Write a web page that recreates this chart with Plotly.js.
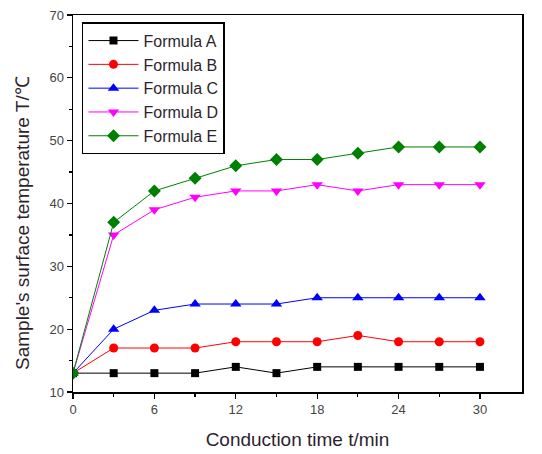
<!DOCTYPE html>
<html>
<head>
<meta charset="utf-8">
<script src="https://cdn.plot.ly/plotly-3.0.1.min.js"></script>
<style>html,body{margin:0;padding:0;background:#fff;}#chart{width:542px;height:454px;}</style>
</head>
<body>
<div id="chart"></div>
<script>
const time = [0, 3, 6, 9, 12, 15, 18, 21, 24, 27, 30];
const formulaA = [13, 13, 13, 13, 14, 13, 14, 14, 14, 14, 14];
const formulaB = [13, 17, 17, 17, 18, 18, 18, 19, 18, 18, 18];
const formulaC = [13, 20, 23, 24, 24, 24, 25, 25, 25, 25, 25];
const formulaD = [13, 35, 39, 41, 42, 42, 43, 42, 43, 43, 43];
const formulaE = [13, 37, 42, 44, 46, 47, 47, 48, 49, 49, 49];
const seriesNames = ["Formula A", "Formula B", "Formula C", "Formula D", "Formula E"];
const seriesValues = [formulaA, formulaB, formulaC, formulaD, formulaE];
const colors = ["#000000", "#ff0000", "#0000ff", "#ff00ff", "#008000"];
const symbols = ["square", "circle", "triangle-up", "triangle-down", "diamond"];
const sizes = [8, 9, 10, 10, 10];

const traces = seriesNames.map((n, i) => ({
  x: time, y: seriesValues[i], name: n, type: "scatter", mode: "lines+markers",
  line: {color: colors[i], width: 1},
  marker: {color: colors[i], symbol: symbols[i], size: sizes[i]}
}));

const FONT = "Liberation Sans, Arial, sans-serif";
const TXT = "#2e1f30";
const axisCommon = {
  showgrid: false, zeroline: false, showline: true, linecolor: "#000", linewidth: 1.5,
  mirror: true, ticks: "outside", ticklen: 5, tickcolor: "#000", tickwidth: 1.2,
  tickfont: {family: FONT, size: 13, color: "#444"}
};

const layout = {
  width: 542, height: 454,
  margin: {l: 73, r: 20, t: 15, b: 62},
  paper_bgcolor: "#fff", plot_bgcolor: "#fff",
  showlegend: true,
  legend: {x: 0.02, y: 0.981, xanchor: "left", yanchor: "top", bordercolor: "#000", borderwidth: 1.5,
    bgcolor: "#fff", font: {family: FONT, size: 16, color: TXT}, tracegroupgap: 0, itemwidth: 50},
  xaxis: Object.assign({}, axisCommon, {
    range: [0, 33.1], tickvals: [0, 6, 12, 18, 24, 30],
    minor: {tickvals: [3, 9, 15, 21, 27], ticks: "outside", ticklen: 3, tickcolor: "#000"},
    title: {text: "Conduction time t/min", font: {family: FONT, size: 19, color: TXT}, standoff: 16}
  }),
  yaxis: Object.assign({}, axisCommon, {
    range: [10, 70], tickvals: [10, 20, 30, 40, 50, 60, 70],
    minor: {tickvals: [15, 25, 35, 45, 55, 65], ticks: "outside", ticklen: 3, tickcolor: "#000"}
  }),
  annotations: [{
    text: "Sample's surface temperature T/℃", textangle: -90, showarrow: false,
    xref: "paper", yref: "paper", x: (22 - 73) / 449, y: (392 - 223) / 377,
    xanchor: "center", yanchor: "middle",
    font: {family: FONT, size: 19, color: TXT}
  }]
};

Plotly.newPlot("chart", traces, layout, {displayModeBar: false, staticPlot: true});
</script>
</body>
</html>
